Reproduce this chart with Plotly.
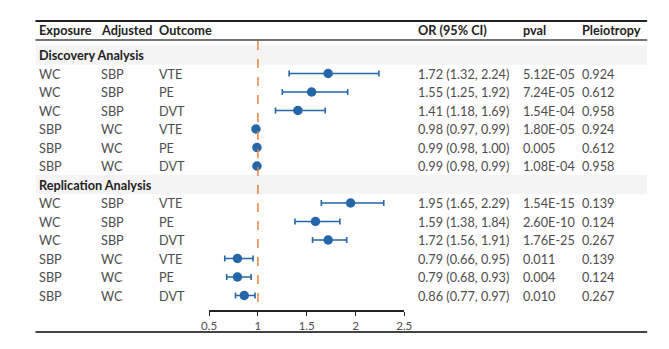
import plotly.graph_objects as go

# ---- data ----
sections = ["Discovery Analysis", "Replication Analysis"]
exposure = ["WC", "WC", "WC", "SBP", "SBP", "SBP", "WC", "WC", "WC", "SBP", "SBP", "SBP"]
adjusted = ["SBP", "SBP", "SBP", "WC", "WC", "WC", "SBP", "SBP", "SBP", "WC", "WC", "WC"]
outcome = ["VTE", "PE", "DVT", "VTE", "PE", "DVT", "VTE", "PE", "DVT", "VTE", "PE", "DVT"]
or_val = [1.72, 1.55, 1.41, 0.98, 0.99, 0.99, 1.95, 1.59, 1.72, 0.79, 0.79, 0.86]
ci_low = [1.32, 1.25, 1.18, 0.97, 0.98, 0.98, 1.65, 1.38, 1.56, 0.66, 0.68, 0.77]
ci_high = [2.24, 1.92, 1.69, 0.99, 1.00, 0.99, 2.29, 1.84, 1.91, 0.95, 0.93, 0.97]
pval = ["5.12E-05", "7.24E-05", "1.54E-04", "1.80E-05", "0.005", "1.08E-04",
        "1.54E-15", "2.60E-10", "1.76E-25", "0.011", "0.004", "0.010"]
pleio = ["0.924", "0.612", "0.958", "0.924", "0.612", "0.958",
         "0.139", "0.124", "0.267", "0.139", "0.124", "0.267"]
headers = ["Exposure", "Adjusted", "Outcome", "OR (95% CI)", "pval", "Pleiotropy"]
x_ticks = [0.5, 1, 1.5, 2, 2.5]

# ---- layout helpers (page body has an 8px margin) ----
OFF = 8
W, H = 669 - 2 * OFF, 349 - 2 * OFF
ROW0, STEP = 55.0, 18.5

def px(xr):
    return (xr - OFF) / W

def py(yr):
    return 1 - (yr - OFF) / H

def idx_of_px(p):
    return (p - ROW0) / STEP

row_idx = [i + 1 for i in range(6)] + [i + 8 for i in range(6)]
sec_idx = [0, 7]

col_x = [30, 93, 153, 418, 526, 586]
FONT = "Lato"
TXT = "#4d4d4d"
BLUE = "#2466A8"
FS = 12.7

fig = go.Figure()
fig.add_trace(go.Scatter(
    x=or_val, y=row_idx, mode="markers",
    marker=dict(color=BLUE, size=9.5),
    error_x=dict(type="data", symmetric=False,
                 array=[h - o for h, o in zip(ci_high, or_val)],
                 arrayminus=[o - l for o, l in zip(or_val, ci_low)],
                 color=BLUE, thickness=1.6, width=3),
    hoverinfo="skip", showlegend=False,
))

ann = []
def add_text(xr, y, text, bold=False, color=TXT, size=FS, yref="y"):
    ann.append(dict(x=px(xr), xref="paper", y=y, yref=yref, text=text,
                    showarrow=False, xanchor="left", yanchor="middle",
                    font=dict(family=FONT, size=size, color=color, weight=700 if bold else 400)))

for h, cx in zip(headers, col_x):
    add_text(cx, py(30), h, bold=True, color="#222222", yref="paper")

shapes = []
for s, si in zip(sections, sec_idx):
    shapes.append(dict(type="rect", xref="paper", yref="y", x0=px(28), x1=px(655),
                       y0=si - 0.53, y1=si + 0.53, fillcolor="#F4F4F4", line=dict(width=0),
                       layer="below"))
    add_text(30, si, s, bold=True, color="#222222")

for i, ri in enumerate(row_idx):
    est = f"{or_val[i]:.2f} ({ci_low[i]:.2f}, {ci_high[i]:.2f})"
    for cx, t in zip(col_x, [exposure[i], adjusted[i], outcome[i], est, pval[i], pleio[i]]):
        add_text(cx, ri, t)

for ypx, w, c in [(21, 2, "#222222"), (40, 1.5, "#444444"), (332, 2, "#444444")]:
    shapes.append(dict(type="line", xref="paper", yref="paper", x0=px(28), x1=px(655),
                       y0=py(ypx), y1=py(ypx), line=dict(color=c, width=w)))

shapes.append(dict(type="line", xref="x", yref="y", x0=1, x1=1,
                   y0=idx_of_px(41), y1=idx_of_px(311),
                   line=dict(color="#E5843F", width=1.5, dash="dash")))

fig.update_layout(
    width=W, height=H, margin=dict(l=0, r=0, t=0, b=0),
    plot_bgcolor="white", paper_bgcolor="white",
    xaxis=dict(domain=[px(206), px(406)], range=[0.5, 2.5], tickvals=x_ticks,
               ticktext=[str(v) for v in x_ticks],
               showgrid=False, zeroline=False, showline=True, linecolor="#222222", linewidth=1.5,
               ticks="outside", ticklen=4, tickwidth=1.2, tickcolor="#222222",
               anchor="free", position=py(311),
               tickfont=dict(family=FONT, size=11.5, color=TXT)),
    yaxis=dict(domain=[0, 1], range=[idx_of_px(OFF + H), idx_of_px(OFF)], visible=False),
    annotations=ann, shapes=shapes,
)
fig.write_html("out.html")
